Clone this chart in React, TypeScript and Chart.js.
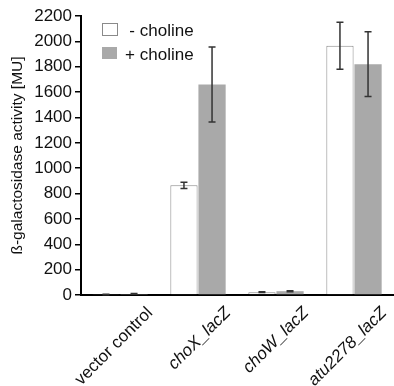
import React, { useEffect, useRef } from "react";
import { Chart, registerables } from "chart.js";

Chart.register(...registerables);

const categories = ["vector control", "choX_lacZ", "choW_lacZ", "atu2278_lacZ"];
const seriesLabels = ["- choline", "+ choline"];
const minusCholine = [3, 865, 22, 1965];
const minusCholineErr = [2, 25, 3, 185];
const plusCholine = [8, 1660, 30, 1820];
const plusCholineErr = [3, 295, 4, 255];
const yTicksMax = 2200;
const yStep = 200;

const FONT = "'Liberation Sans', Arial, sans-serif";

const errorBarPlugin = {
  id: "errorBars",
  afterDatasetsDraw(chart: any) {
    const ctx = chart.ctx;
    const yScale = chart.scales.y;
    chart.data.datasets.forEach((ds: any, di: number) => {
      const meta = chart.getDatasetMeta(di);
      const errs = ds.errors as number[];
      meta.data.forEach((bar: any, i: number) => {
        const v = ds.data[i];
        const e = errs[i];
        const yTop = yScale.getPixelForValue(v + e);
        const yBot = yScale.getPixelForValue(Math.max(0, v - e));
        const x = bar.x;
        ctx.save();
        ctx.strokeStyle = "#333";
        ctx.lineWidth = 1.5;
        ctx.beginPath();
        ctx.moveTo(x, yTop);
        ctx.lineTo(x, yBot);
        ctx.moveTo(x - 3.5, yTop);
        ctx.lineTo(x + 3.5, yTop);
        ctx.moveTo(x - 3.5, yBot);
        ctx.lineTo(x + 3.5, yBot);
        ctx.stroke();
        ctx.restore();
      });
    });
  },
};

const legendPlugin = {
  id: "innerLegend",
  afterDraw(chart: any) {
    const ctx = chart.ctx;
    const area = chart.chartArea;
    ctx.save();
    ctx.font = `17px ${FONT}`;
    ctx.textBaseline = "middle";
    chart.data.datasets.forEach((ds: any, i: number) => {
      const bx = area.left + 21;
      const by = area.top + 7 + i * 24;
      ctx.fillStyle = ds.backgroundColor;
      ctx.fillRect(bx, by, 15, 12);
      if (ds.borderWidth) {
        ctx.strokeStyle = ds.borderColor;
        ctx.lineWidth = 1;
        ctx.strokeRect(bx + 0.5, by + 0.5, 15, 12);
      }
      const label: string = ds.label;
      const sp = label.indexOf(" ");
      ctx.fillStyle = "#111";
      ctx.textAlign = "right";
      ctx.fillText(label.slice(0, sp), bx + 33, by + 8);
      ctx.textAlign = "left";
      ctx.fillText(label.slice(sp), bx + 33, by + 8);
    });
    ctx.restore();
  },
};

export default function App() {
  const ref = useRef<HTMLCanvasElement>(null);
  useEffect(() => {
    document.body.style.margin = "0";
    const chart = new Chart(ref.current!, {
      type: "bar",
      data: {
        labels: categories,
        datasets: [
          {
            label: seriesLabels[0],
            data: minusCholine,
            errors: minusCholineErr,
            backgroundColor: "#ffffff",
            borderColor: "#8a8a8a",
            borderWidth: 1,
            categoryPercentage: 0.72,
            barPercentage: 0.97,
          } as any,
          {
            label: seriesLabels[1],
            data: plusCholine,
            errors: plusCholineErr,
            backgroundColor: "#a9a9a9",
            borderWidth: 0,
            categoryPercentage: 0.72,
            barPercentage: 0.97,
          } as any,
        ],
      },
      options: {
        animation: false,
        responsive: false,
        maintainAspectRatio: false,
        layout: { padding: { top: 16, right: 1, left: 0, bottom: 0 } },
        plugins: { legend: { display: false }, tooltip: { enabled: false } },
        scales: {
          x: {
            offset: true,
            grid: { display: true, drawOnChartArea: false, drawTicks: false },
            border: { display: true, color: "#000", width: 2 },
            ticks: {
              autoSkip: false,
              maxRotation: 45,
              minRotation: 45,
              labelOffset: 30,
              padding: 8,
              color: "#111",
              font: (c: any) => ({
                family: FONT,
                size: 17,
                style: c.index === 0 ? "normal" : "italic",
              }),
            },
            afterFit(scale: any) {
              scale.height = 91;
            },
          },
          y: {
            min: 0,
            max: yTicksMax,
            grid: { display: true, drawOnChartArea: false, drawTicks: true, tickLength: 6, color: "#000", lineWidth: 1.5 },
            border: { display: true, color: "#000", width: 2 },
            ticks: {
              stepSize: yStep,
              padding: 3,
              color: "#111",
              font: { family: FONT, size: 17 },
              callback: (v: any) => String(v),
            },
            title: {
              display: true,
              text: "ß-galactosidase activity [MU]",
              color: "#111",
              font: { family: FONT, size: 15.5 },
              padding: { top: 8, bottom: 0 },
            },
            afterFit(scale: any) {
              scale.width = 81;
            },
          },
        },
      },
      plugins: [errorBarPlugin, legendPlugin],
    });
    return () => chart.destroy();
  }, []);
  return <canvas ref={ref} width={394} height={386} style={{ display: "block" }} />;
}
